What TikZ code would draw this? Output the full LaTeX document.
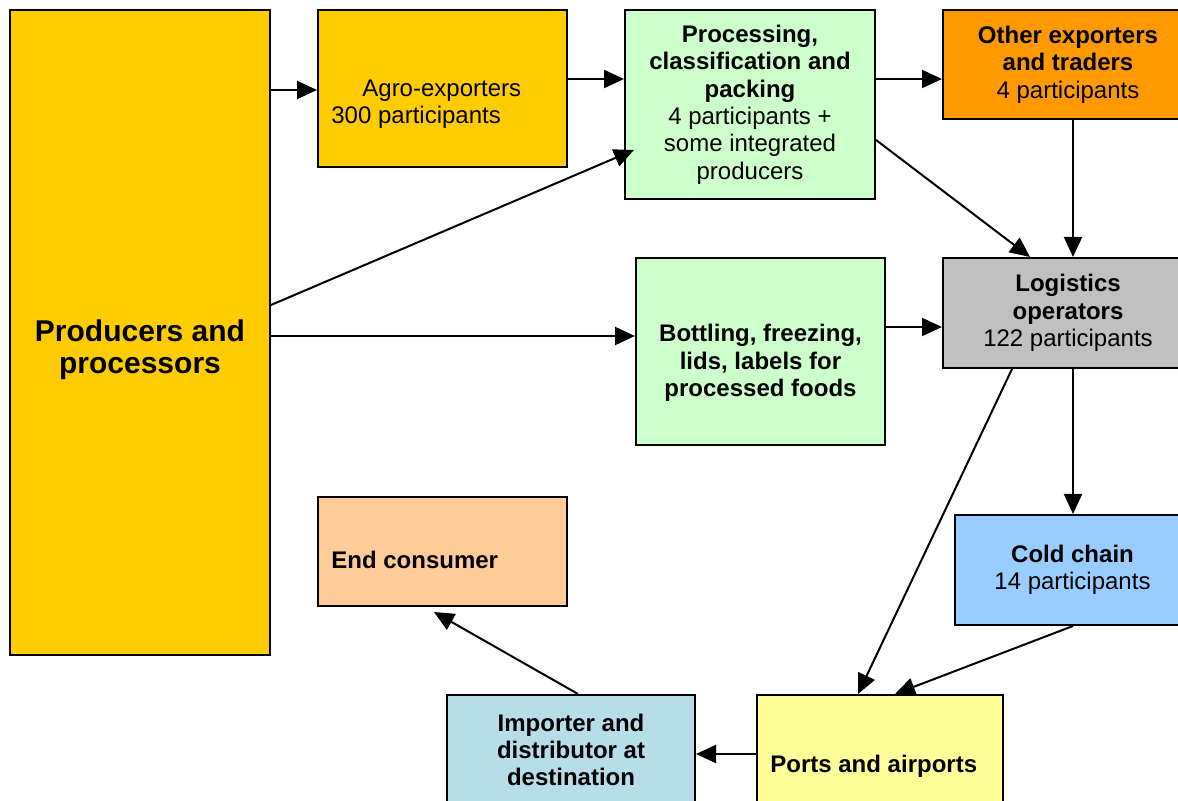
\documentclass[tikz,border=0pt]{standalone}
\usepackage{fontspec}
\setmainfont{Liberation Sans}
\usetikzlibrary{arrows.meta, calc}
\definecolor{prodcol}{HTML}{FFCC00}
\definecolor{proccol}{HTML}{CCFFCC}
\definecolor{othercol}{HTML}{FF9900}
\definecolor{logcol}{HTML}{C0C0C0}
\definecolor{coldcol}{HTML}{99CCFF}
\definecolor{endcol}{HTML}{FFCC99}
\definecolor{impcol}{HTML}{B7DEE8}
\definecolor{portcol}{HTML}{FFFF99}

\begin{document}
\begin{tikzpicture}[
      x=0.5pt, y=-0.5pt,
      box/.style={draw, line width=1pt, inner sep=0pt, align=center,
                  font=\fontsize{12}{13.7}\selectfont},
      txt/.style={inner sep=0pt, font=\fontsize{12}{13.7}\selectfont},
      arrow/.style={-{Triangle[length=10pt, width=9pt]}, line width=1pt}
    ]
    \clip (0,0) rectangle (1178,801);
    \node[box, fill=prodcol, minimum width=130pt, minimum height=322.5pt] (prod) at (140,332.5) {};
    \node[box, fill=prodcol, minimum width=124.5pt, minimum height=78.5pt] (agro) at (442.5,88.5) {};
    \node[box, fill=proccol, minimum width=125pt, minimum height=94.5pt] (proc) at (750,104.5)
      {\textbf{Processing,}\\\textbf{classification and}\\\textbf{packing}\\4 participants +\\some integrated\\producers};
    \node[box, fill=othercol, minimum width=125pt, minimum height=54.5pt] (other) at (1068,64.5)
      {\textbf{Other exporters}\\\textbf{and traders}\\4 participants};
    \node[box, fill=logcol, minimum width=125pt, minimum height=55pt] (log) at (1068,313)
      {\textbf{Logistics}\\\textbf{operators}\\122 participants};
    \node[box, fill=proccol, minimum width=124.5pt, minimum height=93.5pt] (bottle) at (760.5,351.5) {};
    \node[box, fill=coldcol, minimum width=117.5pt, minimum height=55pt] (cold) at (1072.5,570)
      {\textbf{Cold chain}\\14 participants};
    \node[box, fill=endcol, minimum width=124.5pt, minimum height=54.5pt] (endc) at (442.5,551.5) {};
    \node[box, fill=impcol, minimum width=124pt, minimum height=55pt] (imp) at (571,750)
      {\textbf{Importer and}\\\textbf{distributor at}\\\textbf{destination}};
    \node[box, fill=portcol, minimum width=123pt, minimum height=55pt] (ports) at (880,750) {};

    \node[txt, align=center, font=\fontsize{15}{16}\selectfont\bfseries] (prodt) at (140,350)
      {Producers and\\processors};
    \node[txt, align=left, anchor=west] (agrot) at (331,104)
      {\hspace*{15.5pt}Agro-exporters\\300 participants};
    \node[txt, align=center] (bottlet) at (760.5,363)
      {\textbf{Bottling, freezing,}\\\textbf{lids, labels for}\\\textbf{processed foods}};
    \node[txt, anchor=west] (endct) at (331,560) {\textbf{End consumer}};
    \node[txt, anchor=west] (portst) at (770,766) {\textbf{Ports and airports}};

    \draw[arrow] (prod.east |- 0,90) -- (agro.west |- 0,90);
    \draw[arrow] (agro.east |- 0,79) -- (proc.west |- 0,79);
    \draw[arrow] (prod.east |- 0,305) -- ($(proc.west |- 0,150)+(10,0)$);
    \draw[arrow] (prod.east |- 0,336) -- (bottle.west |- 0,336);
    \draw[arrow] (proc.east |- 0,79) -- (other.west |- 0,79);
    \draw[arrow] (proc.east |- 0,140) -- ($(log.north)+(-38,0)$);
    \draw[arrow] (1073,0 |- other.south) -- (1073,0 |- log.north);
    \draw[arrow] (bottle.east |- 0,327) -- (log.west |- 0,327);
    \draw[arrow] (1073,0 |- log.south) -- (1073,0 |- cold.north);
    \draw[arrow] (1012,0 |- log.south) -- (858,0 |- ports.north);
    \draw[arrow] (1073,0 |- cold.south) -- (895,0 |- ports.north);
    \draw[arrow] (ports.west |- 0,754) -- (imp.east |- 0,754);
    \draw[arrow] (578,0 |- imp.north) -- ($(434,0 |- endc.south)+(0,5)$);
  \end{tikzpicture}
\end{document}
